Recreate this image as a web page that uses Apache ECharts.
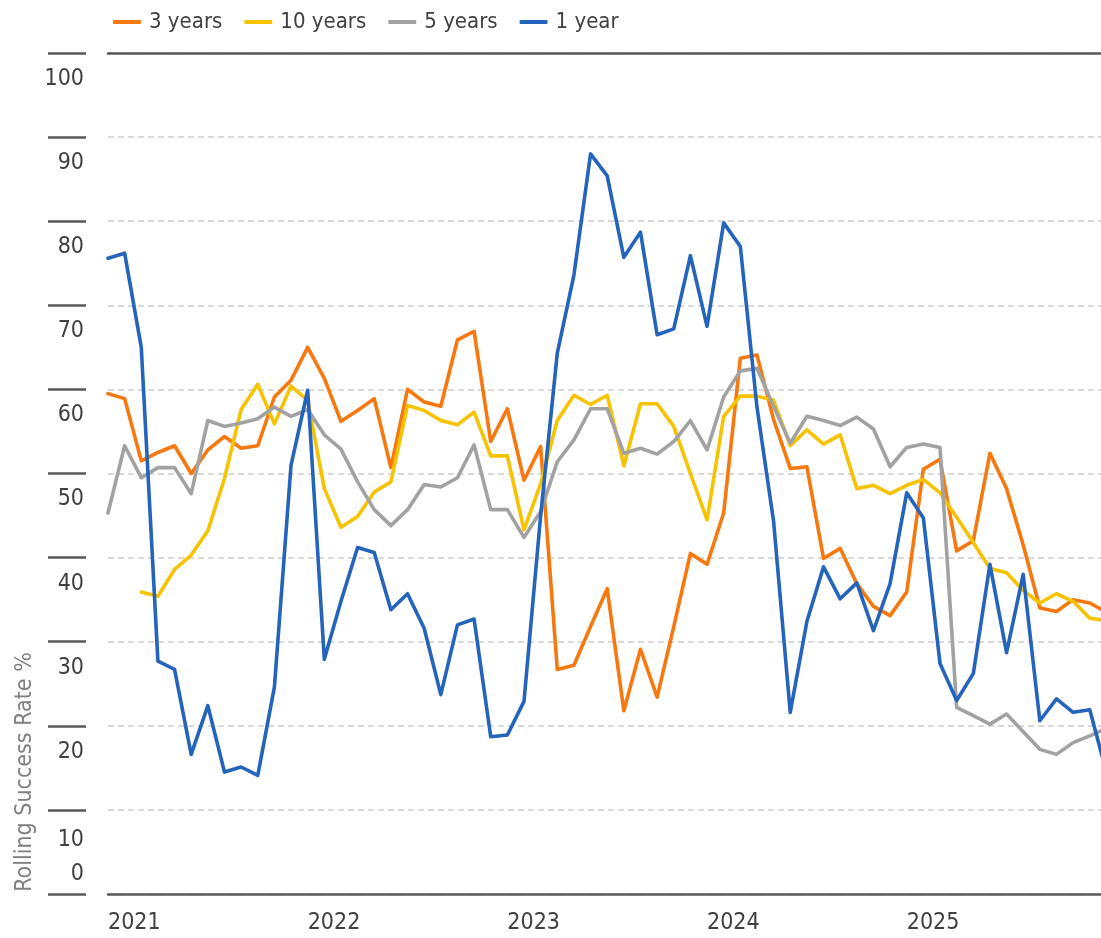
<!DOCTYPE html>
<html>
<head>
<meta charset="utf-8">
<script src="https://cdn.jsdelivr.net/npm/echarts@6/dist/echarts.min.js"></script>
<style>
  html, body { margin: 0; padding: 0; background: #ffffff; overflow: hidden; }
  /* the plot runs slightly past the right edge of the view, so the canvas is wider */
  #chart { width: 1120px; height: 938px; }
</style>
</head>
<body>
<div id="chart"></div>
<script>
// Monthly rolling success rates, Jan 2021 – Jan 2026
const months = [];
for (let y = 2021; y <= 2026; y++) {
  for (let m = 1; m <= 12; m++) {
    if (y === 2026 && m > 1) break;
    months.push(y + '-' + String(m).padStart(2, '0'));
  }
}

const threeYears = [59.5,58.9,51.5,52.5,53.3,50.0,52.8,54.4,53.0,53.3,59.1,61.1,65.0,61.3,56.2,57.5,58.9,50.7,60.0,58.5,
  58.0,65.9,66.9,53.8,57.7,49.2,53.2,26.7,27.2,31.8,36.3,21.8,29.1,23.4,31.8,40.5,39.2,45.3,63.7,64.1,
  56.4,50.6,50.8,39.9,41.1,36.9,34.2,33.1,35.9,50.5,51.7,40.8,42.0,52.4,48.2,41.5,34.0,33.6,35.0,34.6,33.5];

const tenYears = [null,null,35.9,35.4,38.6,40.3,43.2,49.4,57.6,60.6,55.9,60.4,58.7,48.2,43.6,44.9,47.8,49.0,58.1,57.5,
  56.3,55.8,57.3,52.1,52.1,43.3,48.8,56.3,59.3,58.2,59.3,50.9,58.3,58.3,55.6,50.0,44.5,56.8,59.2,59.2,
  58.7,53.3,55.2,53.5,54.6,48.2,48.6,47.6,48.6,49.3,47.7,44.8,41.8,38.7,38.2,36.1,34.6,35.7,34.8,32.8,32.5];

const fiveYears = [45.3,53.3,49.5,50.7,50.7,47.6,56.3,55.6,56.0,56.5,57.9,56.8,57.6,54.6,52.9,49.0,45.7,43.8,45.7,48.7,
  48.4,49.5,53.4,45.7,45.7,42.4,45.5,51.4,54.0,57.7,57.7,52.4,53.0,52.3,53.8,56.3,52.8,59.1,62.2,62.5,
  58.0,53.6,56.8,56.3,55.7,56.7,55.3,50.8,53.1,53.5,53.1,22.2,21.2,20.2,21.4,19.3,17.2,16.6,18.0,18.8,19.7];

const oneYear = [75.6,76.2,65.0,27.7,26.7,16.6,22.4,14.5,15.1,14.1,24.6,51.0,59.9,27.9,34.8,41.2,40.6,33.8,35.7,31.6,
  23.7,32.0,32.7,18.7,18.9,22.9,45.0,64.3,73.6,88.0,85.4,75.7,78.7,66.5,67.2,75.9,67.5,79.8,77.0,57.9,
  44.3,21.6,32.4,38.9,35.1,37.0,31.3,36.9,47.7,44.7,27.4,23.0,26.2,39.2,28.7,38.0,20.6,23.2,21.6,21.9,14.5];

const yTicks = [0, 10, 20, 30, 40, 50, 60, 70, 80, 90, 100];

const FONT = '"Liberation Sans Narrow", "DejaVu Sans Condensed", "Roboto", sans-serif';
const DARK = '#595959';
const TEXT = '#404040';

function lineSeries(name, data, color) {
  return {
    name: name,
    type: 'line',
    data: data,
    symbol: 'none',
    smooth: false,
    connectNulls: false,
    lineStyle: { color: color, width: 3.6, cap: 'round', join: 'round' },
    itemStyle: { color: color },
    emphasis: { disabled: true }
  };
}

const chart = echarts.init(document.getElementById('chart'), null, { renderer: 'canvas' });

chart.setOption({
  animation: false,
  backgroundColor: '#ffffff',
  textStyle: { fontFamily: FONT },
  legend: {
    left: 108,
    top: 6,
    icon: 'roundRect',
    itemWidth: 28,
    itemHeight: 4,
    itemGap: 22,
    textStyle: { fontFamily: FONT, fontSize: 22, color: TEXT, padding: [0, 0, 0, 3] },
    data: ['3 years', '10 years', '5 years', '1 year']
  },
  grid: { left: 108, right: 13.6, top: 53, bottom: 44, containLabel: false, outerBoundsMode: 'none' },
  xAxis: [{
    type: 'category',
    data: months,
    boundaryGap: false,
    axisLine: { show: true, lineStyle: { color: DARK, width: 2.5 } },
    axisTick: { show: false },
    splitLine: { show: false },
    axisLabel: {
      interval: function (i) { return i % 12 === 0 && i < 60; },
      formatter: function (v) { return v.slice(0, 4); },
      align: 'left',
      margin: 18,
      fontFamily: FONT,
      fontSize: 23,
      color: TEXT
    }
  }, {
    type: 'category',
    data: months,
    position: 'top',
    boundaryGap: false,
    axisLine: { show: true, lineStyle: { color: DARK, width: 2.5 } },
    axisTick: { show: false },
    axisLabel: { show: false },
    splitLine: { show: false }
  }],
  yAxis: {
    type: 'value',
    min: 0,
    max: 100,
    interval: 10,
    offset: 22,
    axisLine: { show: false },
    axisTick: { show: true, length: 38, lineStyle: { color: DARK, width: 2.5 } },
    splitLine: { show: true, lineStyle: { color: '#d9d9d9', width: 2, type: [6, 4] } },
    axisLabel: {
      margin: 2,
      verticalAlign: 'middle',
      formatter: function (v) {
        if (v === 0) return '{z|' + v + '}';
        if (v === 10) return '{t|' + v + '}';
        return '{n|' + v + '}';
      },
      rich: {
        n: { fontFamily: FONT, fontSize: 23, color: TEXT, padding: [52, 0, 0, 0] },
        t: { fontFamily: FONT, fontSize: 23, color: TEXT, padding: [60, 0, 0, 0] },
        z: { fontFamily: FONT, fontSize: 23, color: TEXT, padding: [0, 0, 40, 0] }
      }
    }
  },
  graphic: [{
    type: 'text',
    x: 25,
    y: 772,
    rotation: Math.PI / 2,
    style: {
      text: 'Rolling Success Rate %',
      fontFamily: FONT,
      fontSize: 23,
      fill: '#808080',
      align: 'center',
      verticalAlign: 'middle'
    }
  }],
  series: [
    lineSeries('3 years', threeYears, '#F7780F'),
    lineSeries('10 years', tenYears, '#F7C300'),
    lineSeries('5 years', fiveYears, '#A2A2A2'),
    lineSeries('1 year', oneYear, '#2564BC')
  ]
});
</script>
</body>
</html>
